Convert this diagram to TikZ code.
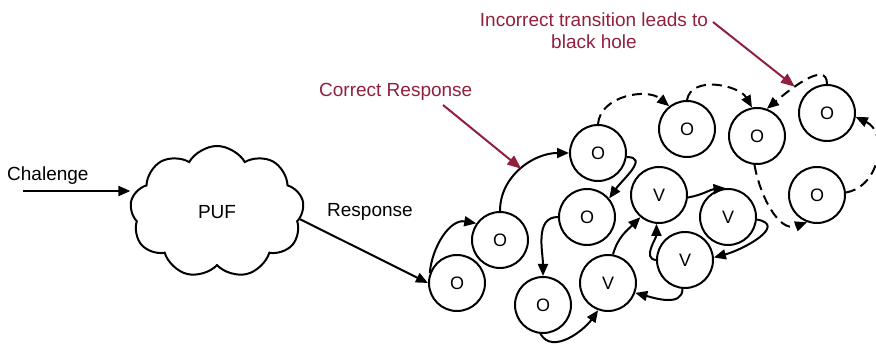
\documentclass[tikz,border=0pt]{standalone}
\usepackage{fontspec}
\setmainfont{Liberation Sans}
\usetikzlibrary{arrows.meta,shapes.symbols}
\definecolor{annot}{RGB}{145,32,62}
\begin{document}
\begin{tikzpicture}[x=1pt,y=1pt,
  state/.style={circle,draw,line width=2pt,minimum size=56pt,inner sep=0pt,
    font=\fontsize{18}{20}\selectfont},
  trans/.style={line width=2pt,-{Triangle[length=12pt,width=10pt]}},
  hole/.style={trans,dash pattern=on 10pt off 6pt},
  lbl/.style={font=\fontsize{19}{22}\selectfont,inner sep=0pt},
  note/.style={lbl,text=annot},
  pointer/.style={annot,line width=2pt,-{Triangle[length=14pt,width=11pt]}}]
\useasboundingbox (0,0) rectangle (876,348);

% the PUF cloud with its challenge and response
\node[cloud,draw,line width=2pt,cloud puffs=9,cloud puff arc=120,aspect=1.32,
  minimum width=174pt,minimum height=132pt,font=\fontsize{19}{22}\selectfont]
  (puf) at (217,136) {PUF};
\node[lbl,anchor=base west] (chal) at (7,167) {Chalenge};
\coordinate (cin) at (23,157);
\node[lbl,anchor=base west] (resp) at (327,131) {Response};

% states
\node[state] (o1) at (457,65) {O};
\node[state] (o2) at (500,108) {O};
\node[state] (o3) at (598,195) {O};
\node[state] (o4) at (587,131) {O};
\node[state] (o5) at (543,43) {O};
\node[state] (v1) at (608,65) {V};
\node[state] (v2) at (659,153) {V};
\node[state] (v3) at (728,131) {V};
\node[state] (v4) at (685,88) {V};
\node[state] (o6) at (687,219) {O};
\node[state] (o7) at (757,212) {O};
\node[state] (o8) at (827,235) {O};
\node[state] (o9) at (817,153) {O};

% challenge in, response out
\draw[trans] (cin) -- (cin -| puf.west);
\draw[trans] (puf.-5) -- (o1.180);

% correct transitions
\draw[trans] (o1.160) to[out=85,in=170] (o2.145);
\draw[trans] (o2.north) to[out=90,in=180] coordinate[pos=0.5] (hit1) (o3.west);
\draw[trans] (o3.-8) to[out=0,in=55,looseness=1.3] (o4.40);
\draw[trans] (o4.west) to[out=180,in=90] (o5.north);
\draw[trans] (o5.-95) to[out=-60,in=235] (v1.-110);
\draw[trans] (v1.80) to[out=75,in=225] (v2.230);
\draw[trans] (v2.-5) to[out=10,in=185] (v3.95);
\draw[trans] (v3.-5) to[out=-10,in=15,looseness=1.4] (v4.5);
\draw[trans] (v4.-95) to[out=-90,in=-15] (v1.-20);
\draw[trans] (v4.west) to[out=175,in=-90] (v2.-95);

% transitions into the black hole
\draw[hole] (o3.north) to[out=85,in=140] (o6.128);
\draw[hole] (o6.north) to[out=80,in=120] (o7.100);
\draw[hole] (o8.north) to[out=90,in=40] coordinate[pos=0.62] (hit2) (o7.70);
\draw[hole] (o7.-95) to[out=-80,in=200] (o9.250);
\draw[hole] (o9.5) to[out=10,in=-25,looseness=1.2] (o8.-8);

% annotations
\node[note,anchor=base west] (cr) at (319,251) {Correct Response};
\coordinate (p1) at (443,243);
\draw[pointer] (p1) -- (hit1);
\node[note,align=center,anchor=base] (inc) at (594,299)
  {Incorrect transition leads to\\black hole};
\coordinate (p2) at (713,326);
\draw[pointer] (p2) -- (hit2);
\end{tikzpicture}
\end{document}
